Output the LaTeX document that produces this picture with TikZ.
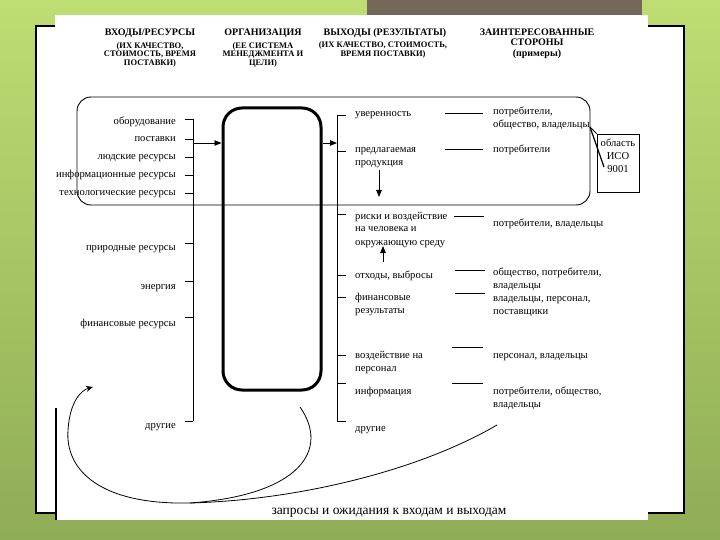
\documentclass[tikz,border=0pt]{standalone}
\usepackage{fontspec}
\setmainfont{Liberation Serif}
\usetikzlibrary{arrows.meta}
\definecolor{bgtop}{HTML}{BEDD72}
\definecolor{bgbot}{HTML}{8FAC56}
\definecolor{barcol}{HTML}{746858}
\newcommand{\mlL}[1]{\begin{tabular}[t]{@{}l@{}}#1\end{tabular}}
\newcommand{\mlC}[1]{\begin{tabular}[t]{@{}c@{}}#1\end{tabular}}
\begin{document}
\begin{tikzpicture}[x=1pt,y=-1pt,
  hdr/.style={font=\fontsize{10}{10.5}\selectfont\bfseries, inner sep=0pt, anchor=base},
  sub/.style={font=\fontsize{8.5}{7.8}\selectfont\bfseries, inner sep=0pt, anchor=base},
  txt/.style={font=\fontsize{10.6}{13}\selectfont, inner sep=0pt},
  inlab/.style={txt, anchor=base east},
  outlab/.style={txt, anchor=base west},
  ln/.style={line width=0.8pt},
  arr/.style={ln, -{Triangle[length=7pt,width=5.5pt]}},
]
\useasboundingbox (0,0) rectangle (720,540);
\shade[top color=bgtop, bottom color=bgbot] (0,0) rectangle (720,540);
% scanned page
\draw[line width=1.2pt, fill=white] (36,26) rectangle (684,513);
\fill[white] (55,15) rectangle (648,520);
\fill[barcol] (367,0) rectangle (642,15);
\draw[line width=2pt] (56,408) -- (56,520);

% headers
\node[hdr] (h1) at (150,35.5) {ВХОДЫ/РЕСУРСЫ};
\node[sub] (s1) at (150,49) {\mlC{(ИХ КАЧЕСТВО,\\СТОИМОСТЬ, ВРЕМЯ\\ПОСТАВКИ)}};
\node[hdr] (h2) at (263,35.5) {ОРГАНИЗАЦИЯ};
\node[sub] (s2) at (263,49) {\mlC{(ЕЕ СИСТЕМА\\МЕНЕДЖМЕНТА И\\ЦЕЛИ)}};
\node[hdr] (h3) at (385,35.5) {ВЫХОДЫ (РЕЗУЛЬТАТЫ)};
\node[sub] (s3) at (383,48) {\mlC{(ИХ КАЧЕСТВО, СТОИМОСТЬ,\\ВРЕМЯ ПОСТАВКИ)}};
\node[hdr] (h4) at (537,35.5) {\mlC{ЗАИНТЕРЕСОВАННЫЕ\\СТОРОНЫ\\(примеры)}};

% ISO scope and organisation
\node[draw, line width=0.9pt, rounded corners=14pt, minimum width=513pt, minimum height=108pt, inner sep=0pt] (iso) at (333.5,151) {};
\node[draw, line width=3pt, rounded corners=19pt, minimum width=98pt, minimum height=282pt, inner sep=0pt] (org) at (272,249) {};

% inputs
\foreach \t/\y/\ty [count=\i] in {оборудование/122/119, поставки/139/139, людские ресурсы/157/157, информационные ресурсы/175/175, технологические ресурсы/193/193, природные ресурсы/248/243, энергия/286/281, финансовые ресурсы/323/317, другие/425/421}{
  \node[inlab] (in\i) at (176,\y+3) {\t};
  \draw[ln] (185,\ty) -- (193,\ty);
}
\draw[ln] (193,119) -- (193,421);
\coordinate (inj) at (193,143);
\draw[arr] (inj) -- (org.west |- inj);

% outputs bracket
\draw[ln] (346,115) -- (337,115) -- (337,421) -- (346,421);
\foreach \ty in {151,214,275,297,355,383} \draw[ln] (337,\ty) -- (346,\ty);
\coordinate (outj) at (337,143);
\draw[arr] (org.east |- outj) -- (outj);

% outputs
\node[outlab] (o1) at (355,117) {уверенность};
\node[outlab] (o2) at (355,153) {\mlL{предлагаемая\\продукция}};
\node[outlab] (o3) at (355,219) {\mlL{риски и воздействие\\на человека и\\окружающую среду}};
\node[outlab] (o4) at (355,278) {отходы, выбросы};
\node[outlab] (o5) at (355,300) {\mlL{финансовые\\результаты}};
\node[outlab] (o6) at (355,358) {\mlL{воздействие на\\персонал}};
\node[outlab] (o7) at (355,394) {информация};
\node[outlab] (o8) at (355,431) {другие};
\draw[arr] (379,170) -- (379,197);
\draw[arr] (383,262) -- (383,246);

% stakeholders
\node[outlab] (p1) at (493,115) {\mlL{потребители,\\общество, владельцы}};
\node[outlab] (p2) at (493,153) {потребители};
\node[outlab] (p3) at (493,226) {потребители, владельцы};
\node[outlab] (p4) at (493,275) {\mlL{общество, потребители,\\владельцы}};
\node[outlab] (p5) at (493,301) {\mlL{владельцы, персонал,\\поставщики}};
\node[outlab] (p6) at (493,358) {персонал, владельцы};
\node[outlab] (p7) at (493,394) {\mlL{потребители, общество,\\владельцы}};

% connectors output -> stakeholder
\draw[ln] (445,113) -- (483,113);
\draw[ln] (445,149) -- (483,149);
\draw[ln] (454,216) -- (484,216);
\draw[ln] (455,270) -- (485,270);
\draw[ln] (455,293) -- (485,293);
\draw[ln] (452,347) -- (483,347);
\draw[ln] (452,383) -- (483,383);

% ISO 9001 callout
\node[draw, line width=0.9pt, minimum width=42pt, minimum height=58pt, inner sep=0pt] (isobox) at (618,163) {};
\node[txt, anchor=base] (isotxt) at (618,146.5) {\mlC{область\\ИСО\\9001}};
\coordinate (ptr) at (590,127);
\draw[ln] (ptr) -- (isobox.north west);
\draw[line width=1.2pt] (ptr) -- (604,167);

% requests loop
\coordinate (lp) at (190,503);
\draw[ln, -{Stealth[length=7pt,width=6pt]}] (300,407) .. controls (330,450) and (300,495) .. (lp) .. controls (100,505) and (65,470) .. (68,430) .. controls (70,400) and (82,390) .. (93,387);
\draw[ln] (lp) .. controls (300,500) and (420,470) .. (497,425);
\node[font=\fontsize{13.5}{15}\selectfont, anchor=base, inner sep=0pt] (req) at (389,514) {запросы и ожидания к входам и выходам};
\end{tikzpicture}
\end{document}
